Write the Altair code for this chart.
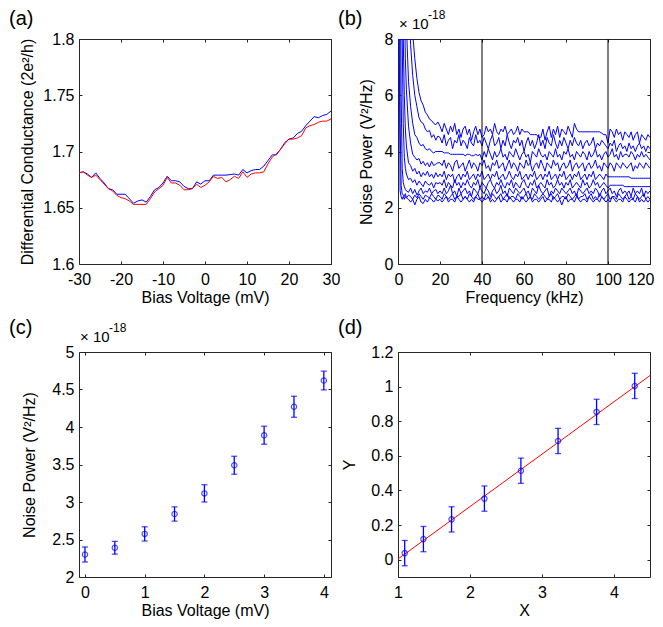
import altair as alt
import pandas as pd

# ---------------- data ----------------
panel_labels = ["(a)", "(b)", "(c)", "(d)"]
exp_text = ["× 10", "-18"]

# (a) differential conductance vs bias
bias_a = list(range(-30, 31))
cond_blue = [1.681, 1.682, 1.680, 1.677, 1.681, 1.676, 1.672, 1.667, 1.666, 1.662,
             1.662, 1.662, 1.658, 1.654, 1.656, 1.657, 1.655, 1.660, 1.666, 1.668,
             1.672, 1.678, 1.674, 1.674, 1.673, 1.669, 1.667, 1.667, 1.673, 1.671,
             1.674, 1.674, 1.679, 1.679, 1.679, 1.679, 1.6795, 1.680, 1.679, 1.684,
             1.681, 1.683, 1.684, 1.684, 1.687, 1.692, 1.697, 1.697, 1.702, 1.708,
             1.711, 1.712, 1.716, 1.718, 1.723, 1.727, 1.731, 1.730, 1.732, 1.733,
             1.736]
cond_red = [1.681, 1.682, 1.679, 1.677, 1.679, 1.675, 1.671, 1.667, 1.665, 1.661,
            1.659, 1.658, 1.656, 1.653, 1.653, 1.653, 1.653, 1.658, 1.664, 1.667,
            1.670, 1.677, 1.672, 1.672, 1.670, 1.666, 1.666, 1.667, 1.671, 1.668,
            1.670, 1.673, 1.678, 1.676, 1.677, 1.673, 1.675, 1.678, 1.676, 1.682,
            1.677, 1.680, 1.681, 1.681, 1.682, 1.689, 1.695, 1.698, 1.702, 1.707,
            1.711, 1.711, 1.712, 1.714, 1.721, 1.723, 1.724, 1.726, 1.727, 1.727,
            1.729]

# (b) noise spectra (units of 1e-18 V^2/Hz)
freq_early = [0.5, 1, 1.5, 2, 2.5, 3, 3.5, 4, 5, 6, 7, 8, 9, 10, 11, 12, 13, 14, 15, 16, 17, 18, 19]
freq_late = list(range(20, 121))
spec_early = [
    [9.5, 2.6, 2.4, 2.3, 2.4, 2.3, 2.4, 2.35, 2.3, 2.2, 2.3, 2.1, 2.3, 2.4, 2.2, 2.15, 2.3, 2.2, 2.35, 2.3, 2.2, 2.3, 2.25],
    [20, 5.0, 2.8, 2.5, 2.45, 2.4, 2.5, 2.35, 2.45, 2.4, 2.3, 2.45, 2.35, 2.5, 2.4, 2.3, 2.45, 2.4, 2.35, 2.5, 2.4, 2.3, 2.45],
    [40, 12, 6.0, 3.4, 2.9, 2.75, 2.65, 2.6, 2.55, 2.7, 2.5, 2.65, 2.45, 2.6, 2.7, 2.5, 2.6, 2.55, 2.7, 2.5, 2.6, 2.65, 2.5],
    [40, 22, 12, 8.0, 5.0, 3.8, 3.4, 3.2, 3.0, 3.05, 2.9, 3.0, 2.8, 2.95, 2.85, 2.75, 2.95, 2.85, 2.8, 2.9, 2.7, 2.9, 2.85],
    [60, 30, 16, 10, 8.0, 6.0, 4.8, 4.2, 3.6, 3.5, 3.3, 3.4, 3.2, 3.3, 3.1, 3.25, 3.15, 3.3, 3.1, 3.2, 3.05, 3.25, 3.1],
    [60, 40, 25, 16, 12, 9.5, 7.3, 6.2, 4.9, 4.3, 3.9, 3.8, 3.7, 3.75, 3.55, 3.65, 3.5, 3.6, 3.45, 3.65, 3.5, 3.55, 3.6],
    [80, 50, 30, 22, 16, 12, 10, 8.5, 6.5, 5.6, 5.0, 4.6, 4.5, 4.3, 4.2, 4.25, 4.1, 4.05, 4.1, 4.0, 3.95, 4.0, 4.0],
    [80, 60, 40, 30, 22, 17, 14, 12, 9.5, 7.8, 6.7, 6.0, 5.6, 5.2, 5.05, 5.0, 4.8, 4.7, 4.75, 4.5, 4.6, 4.4, 4.55],
    [100, 80, 60, 45, 35, 28, 22, 18, 13, 9.5, 8.2, 7.3, 6.6, 6.1, 5.8, 5.65, 5.4, 5.3, 5.15, 5.1, 5.0, 4.95, 5.05],
]
spec_late = [
    [2.3, 2.2, 2.3, 2.4, 2.2, 2.3, 2.3, 2.2, 2.4, 2.3,
     2.2, 2.3, 2.4, 2.3, 2.2, 2.3, 2.2, 2.4, 2.3, 2.3,
     2.2, 2.3, 2.3, 2.4, 2.2, 2.3, 2.2, 2.3, 2.4, 2.2,
     2.3, 2.3, 2.2, 2.4, 2.3, 2.2, 2.3, 2.3, 2.2, 2.4,
     2.3, 2.2, 2.3, 2.4, 2.2, 2.3, 2.3, 2.2, 2.3, 2.4,
     2.2, 2.3, 2.3, 2.2, 2.4, 2.3, 2.2, 2.3, 2.1, 2.3,
     2.4, 2.2, 2.3, 2.3, 2.2, 2.4, 2.3, 2.2, 2.3, 2.3,
     2.2, 2.4, 2.3, 2.2, 2.3, 2.3, 2.2, 2.4, 2.3, 2.2,
     2.3, 2.2, 2.4, 2.3, 2.2, 2.3, 2.3, 2.2, 2.4, 2.3,
     2.2, 2.3, 2.3, 2.2, 2.4, 2.2, 2.3, 2.2, 2.3, 2.2,
     2.3],
    [2.4, 2.3, 2.5, 2.4, 2.3, 2.4, 2.5, 2.3, 2.4, 2.4,
     2.5, 2.3, 2.4, 2.3, 2.5, 2.4, 2.3, 2.4, 2.5, 2.3,
     2.4, 2.3, 2.5, 2.4, 2.3, 2.5, 2.4, 2.3, 2.4, 2.5,
     2.3, 2.4, 2.5, 2.3, 2.4, 2.4, 2.3, 2.5, 2.4, 2.3,
     2.4, 2.5, 2.3, 2.4, 2.3, 2.5, 2.4, 2.3, 2.4, 2.5,
     2.4, 2.3, 2.4, 2.5, 2.3, 2.4, 2.5, 2.3, 2.4, 2.4,
     2.3, 2.5, 2.4, 2.3, 2.4, 2.5, 2.3, 2.4, 2.4, 2.5,
     2.3, 2.4, 2.5, 2.3, 2.4, 2.3, 2.5, 2.4, 2.3, 2.4,
     2.5, 2.3, 2.4, 2.4, 2.3, 2.5, 2.4, 2.3, 2.4, 2.5,
     2.3, 2.4, 2.3, 2.5, 2.4, 2.3, 2.4, 2.5, 2.3, 2.4,
     2.3],
    [2.6, 2.5, 2.7, 2.5, 2.6, 2.8, 2.5, 2.6, 2.4, 2.7,
     2.5, 2.6, 2.7, 2.5, 2.6, 2.4, 2.7, 2.6, 2.5, 2.7,
     2.6, 2.5, 2.7, 2.6, 2.4, 2.6, 2.7, 2.5, 2.6, 2.8,
     2.5, 2.6, 2.4, 2.7, 2.6, 2.5, 2.7, 2.6, 2.5, 2.6,
     2.7, 2.5, 2.6, 2.4, 2.7, 2.6, 2.5, 2.8, 2.6, 2.5,
     2.6, 2.7, 2.4, 2.6, 2.5, 2.7, 2.6, 2.5, 2.7, 2.6,
     2.5, 2.6, 2.7, 2.5, 2.6, 2.4, 2.7, 2.6, 2.5, 2.6,
     2.7, 2.5, 2.6, 2.5, 2.7, 2.6, 2.4, 2.6, 2.7, 2.5,
     2.6, 2.7, 2.5, 2.6, 2.4, 2.6, 2.7, 2.5, 2.6, 2.5,
     2.6, 2.4, 2.7, 2.5, 2.6, 2.5, 2.7, 2.4, 2.6, 2.5,
     2.6],
    [2.9, 2.8, 3.0, 2.7, 2.9, 2.8, 2.7, 3.0, 2.8, 2.9,
     2.7, 2.9, 2.8, 3.0, 2.8, 2.7, 2.9, 2.8, 3.0, 2.7,
     2.9, 2.8, 2.7, 2.9, 3.0, 2.8, 2.7, 2.9, 2.8, 3.0,
     2.8, 2.7, 2.9, 2.8, 3.0, 2.7, 2.9, 2.8, 2.7, 2.9,
     3.0, 2.8, 2.7, 2.9, 2.8, 3.0, 2.7, 2.8, 2.9, 2.8,
     2.7, 3.0, 2.8, 2.9, 2.7, 2.8, 3.0, 2.8, 2.9, 2.7,
     2.9, 2.8, 3.0, 2.7, 2.8, 2.9, 2.8, 2.7, 3.0, 2.8,
     2.9, 2.7, 2.8, 3.0, 2.8, 2.9, 2.7, 2.8, 2.9, 2.8,
     2.7, 2.8, 2.8, 2.8, 2.8, 2.8, 2.8, 2.8, 2.75, 2.75,
     2.75, 2.75, 2.75, 2.75, 2.75, 2.75, 2.75, 2.75, 2.75, 2.75,
     2.75],
    [3.2, 3.1, 3.3, 3.0, 3.2, 3.1, 3.2, 2.9, 3.1, 3.2,
     3.0, 3.2, 3.1, 3.3, 3.0, 3.1, 3.2, 3.0, 3.2, 3.1,
     3.3, 3.0, 3.1, 3.2, 3.0, 3.2, 3.1, 3.3, 3.0, 3.1,
     3.2, 3.0, 3.1, 3.3, 3.1, 3.0, 3.2, 3.1, 3.3, 3.0,
     3.1, 3.2, 3.0, 3.2, 3.1, 3.3, 3.0, 3.1, 3.2, 3.0,
     3.2, 3.1, 3.3, 3.0, 3.1, 3.2, 3.0, 3.2, 3.1, 3.3,
     3.0, 3.1, 3.2, 3.0, 3.2, 3.1, 3.3, 3.0, 3.1, 3.2,
     3.0, 3.2, 3.1, 3.3, 3.0, 3.1, 3.2, 3.1, 3.0, 3.2,
     3.1, 3.1, 3.1, 3.1, 3.1, 3.1, 3.1, 3.1, 3.1, 3.1,
     3.1, 3.05, 3.05, 3.05, 3.05, 3.05, 3.05, 3.05, 3.05, 3.05,
     3.05],
    [3.6, 3.5, 3.7, 3.4, 3.6, 3.5, 3.3, 3.6, 3.7, 3.4,
     3.5, 3.6, 3.3, 3.5, 3.7, 3.4, 3.6, 3.5, 3.3, 3.6,
     3.5, 3.7, 3.4, 3.5, 3.3, 3.6, 3.5, 3.7, 3.4, 3.5,
     3.6, 3.3, 3.5, 3.7, 3.4, 3.6, 3.5, 3.3, 3.6, 3.5,
     3.4, 3.7, 3.5, 3.6, 3.3, 3.5, 3.6, 3.4, 3.7, 3.5,
     3.3, 3.6, 3.5, 3.4, 3.7, 3.5, 3.6, 3.3, 3.5, 3.6,
     3.4, 3.5, 3.7, 3.3, 3.5, 3.6, 3.4, 3.5, 3.6, 3.3,
     3.5, 3.6, 3.4, 3.5, 3.7, 3.4, 3.5, 3.3, 3.6, 3.5,
     3.4, 3.6, 3.5, 3.3, 3.6, 3.5, 3.4, 3.6, 3.5, 3.4,
     3.5, 3.6, 3.3, 3.5, 3.4, 3.6, 3.5, 3.4, 3.6, 3.5,
     3.4],
    [4.0, 4.0, 3.95, 3.95, 3.95, 3.9, 3.9, 3.9, 3.9, 3.9,
     3.9, 3.9, 3.85, 3.9, 3.9, 3.85, 3.85, 3.9, 3.85, 3.9,
     3.7, 4.0, 3.8, 4.1, 3.9, 3.7, 4.0, 3.8, 3.9, 4.1,
     3.8, 3.9, 3.7, 4.0, 3.9, 3.8, 4.1, 3.9, 3.7, 3.9,
     4.0, 3.8, 3.9, 3.6, 4.0, 3.9, 3.8, 4.1, 3.9, 3.8,
     3.9, 3.7, 4.0, 3.9, 3.8, 4.1, 3.8, 3.9, 3.7, 4.0,
     3.9, 4.1, 3.8, 3.9, 3.7, 4.0, 3.9, 3.8, 4.0, 3.9,
     3.7, 4.0, 3.8, 3.9, 4.1, 3.8, 3.9, 3.7, 3.9, 4.0,
     3.8, 3.9, 4.1, 3.8, 3.9, 3.7, 4.0, 3.8, 3.9, 3.9,
     3.8, 4.0, 3.9, 3.7, 3.9, 3.8, 4.0, 3.8, 3.9, 3.8,
     3.7],
    [4.5, 4.3, 4.6, 4.2, 4.4, 4.5, 4.1, 4.4, 4.3, 4.6,
     4.2, 4.4, 4.3, 4.1, 4.5, 4.3, 4.2, 4.6, 4.3, 4.4,
     4.2, 4.5, 4.3, 4.1, 4.4, 4.6, 4.2, 4.3, 4.5, 4.1,
     4.4, 4.2, 4.6, 4.3, 4.1, 4.4, 4.3, 4.5, 4.2, 4.4,
     4.0, 4.3, 4.5, 4.2, 4.4, 4.1, 4.3, 4.6, 4.2, 4.4,
     4.1, 4.5, 4.3, 4.2, 4.6, 4.3, 4.1, 4.4, 4.2, 4.5,
     4.3, 4.1, 4.4, 4.2, 4.5, 4.3, 4.2, 4.4, 4.1, 4.3,
     4.4, 4.2, 4.3, 4.5, 4.1, 4.3, 4.2, 4.4, 4.3, 4.2,
     4.1, 4.3, 4.2, 4.4, 4.0, 4.2, 4.3, 4.1, 4.2, 4.0,
     4.3, 4.1, 4.2, 4.0, 4.2, 4.3, 4.1, 4.2, 4.0, 4.2,
     4.1],
    [4.9, 4.7, 5.0, 4.8, 4.6, 4.9, 4.7, 5.0, 4.6, 4.8,
     4.5, 4.8, 4.9, 4.6, 4.8, 4.4, 4.7, 4.9, 4.6, 4.8,
     4.5, 4.6, 4.9, 4.7, 4.8, 4.6, 5.0, 4.7, 4.6, 4.8,
     4.7, 4.9, 4.6, 4.7, 4.8, 4.6, 4.7, 4.9, 4.6, 4.8,
     4.7, 4.7, 4.7, 4.6, 4.6, 4.6, 4.6, 4.5, 4.5, 4.8,
     4.4, 4.7, 4.9, 4.5, 4.8, 4.6, 4.9, 4.5, 4.8, 4.7,
     4.6, 4.9, 4.7, 4.5, 5.0, 4.8, 4.7, 4.7, 4.7, 4.7,
     4.7, 4.7, 4.7, 4.7, 4.7, 4.7, 4.7, 4.65, 4.6, 4.6,
     4.3, 4.8, 4.7, 4.5, 4.8, 4.6, 4.7, 4.4, 4.7, 4.6,
     4.5, 4.7, 4.4, 4.6, 4.7, 4.3, 4.6, 4.5, 4.4, 4.6,
     4.5],
]
vline_freq = [40, 100]

# (c) noise power vs bias
bias_c = [0, 0.5, 1, 1.5, 2, 2.5, 3, 3.5, 4]
noise_c = [2.30, 2.39, 2.575, 2.84, 3.115, 3.49, 3.89, 4.27, 4.62]
err_c = [0.10, 0.085, 0.095, 0.095, 0.115, 0.12, 0.12, 0.14, 0.125]

# (d) Y vs X with linear fit
x_d = [1.093, 1.353, 1.744, 2.2, 2.707, 3.223, 3.758, 4.288]
y_d = [0.038, 0.119, 0.233, 0.353, 0.514, 0.686, 0.854, 1.004]
err_d = [0.073, 0.073, 0.073, 0.073, 0.073, 0.073, 0.073, 0.073]
fit_x = [1.0, 4.5]
fit_y = [0.004, 1.064]

# ---------------- style ----------------
FONT = "Liberation Sans"
W, H = 252, 225
FRAME = "#262626"
BLUE = "#0000ff"
RED = "#ff0000"
LBL = "'' + datum.value"


def scale(dom):
    return alt.Scale(domain=dom, nice=False, zero=False)


def axis_layers(df, xf, yf, xs, ys, xvals, yvals, xtitle, ytitle, ytp, flush=False):
    xkw = dict(labelFlush=False)
    if flush:
        xkw = dict(labelFlush=True, labelFlushOffset=4)
    main = alt.Chart(df).mark_point(opacity=0, clip=True).encode(
        x=alt.X(xf, type="quantitative", scale=xs,
                axis=alt.Axis(orient="bottom", values=xvals, title=xtitle, ticks=False,
                              tickSize=0, domain=False, grid=False, labelPadding=7,
                              titlePadding=2, labelExpr=LBL, **xkw)),
        y=alt.Y(yf, type="quantitative", scale=ys,
                axis=alt.Axis(orient="left", values=yvals, title=ytitle, ticks=False,
                              tickSize=0, domain=False, grid=False, labelPadding=5,
                              titlePadding=ytp, labelExpr=LBL)),
    )
    t1 = alt.Chart(df).mark_point(opacity=0, clip=True).encode(
        x=alt.X(xf, type="quantitative", scale=xs,
                axis=alt.Axis(orient="top", offset=-H, values=xvals, labels=False,
                              domain=False, grid=False, tickSize=3, tickColor=FRAME,
                              title=None)),
        y=alt.Y(yf, type="quantitative", scale=ys,
                axis=alt.Axis(orient="right", offset=-W, values=yvals, labels=False,
                              domain=False, grid=False, tickSize=3, tickColor=FRAME,
                              title=None)),
    )
    t2 = alt.Chart(df).mark_point(opacity=0, clip=True).encode(
        x=alt.X(xf, type="quantitative", scale=xs,
                axis=alt.Axis(orient="bottom", offset=-H, values=xvals, labels=False,
                              domain=False, grid=False, tickSize=3, tickColor=FRAME,
                              title=None)),
        y=alt.Y(yf, type="quantitative", scale=ys,
                axis=alt.Axis(orient="left", offset=-W, values=yvals, labels=False,
                              domain=False, grid=False, tickSize=3, tickColor=FRAME,
                              title=None)),
    )
    return [main, t1, t2]


def text_layer(txt, x, y, size):
    return alt.Chart(pd.DataFrame({"t": [txt]})).mark_text(
        align="left", baseline="alphabetic", fontSize=size, font=FONT, color="black"
    ).encode(text="t:N", x=alt.value(x), y=alt.value(y))


def finish(layers):
    return alt.layer(*layers).resolve_axis(x="independent", y="independent").properties(
        width=W, height=H)


# ---------------- panel (a) ----------------
df_a = pd.DataFrame({"v": bias_a, "blue": cond_blue, "red": cond_red})
xs_a = scale([-30, 30])
ys_a = scale([1.6, 1.8])
blue_a = alt.Chart(df_a).mark_line(color=BLUE, strokeWidth=1, clip=True).encode(
    x=alt.X("v:Q", scale=xs_a, axis=None), y=alt.Y("blue:Q", scale=ys_a, axis=None))
red_a = alt.Chart(df_a).mark_line(color=RED, strokeWidth=1, clip=True).encode(
    x=alt.X("v:Q", scale=xs_a, axis=None), y=alt.Y("red:Q", scale=ys_a, axis=None))
panel_a = finish([blue_a, red_a]
                 + axis_layers(df_a, "v", "blue", xs_a, ys_a, [-30, -20, -10, 0, 10, 20, 30],
                               [1.6, 1.65, 1.7, 1.75, 1.8], "Bias Voltage (mV)",
                               "Differential Conductance (2e²/h)", 7)
                 + [text_layer(panel_labels[0], -70, -14, 20)])

# ---------------- panel (b) ----------------
rows = []
for k in range(len(spec_early)):
    for f, p in zip(freq_early + freq_late, spec_early[k] + spec_late[k]):
        rows.append({"f": f, "p": p, "curve": k})
df_b = pd.DataFrame(rows)
xs_b = scale([0, 120])
ys_b = scale([0, 8])
lines_b = alt.Chart(df_b).mark_line(color=BLUE, strokeWidth=1, clip=True).encode(
    x=alt.X("f:Q", scale=xs_b, axis=None), y=alt.Y("p:Q", scale=ys_b, axis=None),
    detail="curve:N")
vl_b = alt.Chart(pd.DataFrame({"f": vline_freq})).mark_rule(color="black", strokeWidth=1).encode(
    x=alt.X("f:Q", scale=xs_b, axis=None))
panel_b = finish([lines_b, vl_b]
                 + axis_layers(df_b, "f", "p", xs_b, ys_b, [0, 20, 40, 60, 80, 100, 120],
                               [0, 2, 4, 6, 8], "Frequency (kHz)", "Noise Power (V²/Hz)", 10,
                               flush=True)
                 + [text_layer(panel_labels[1], -60, -14, 20),
                    text_layer(exp_text[0], 1, -10, 15),
                    text_layer(exp_text[1], 30, -20, 12)])

# ---------------- panel (c) ----------------
df_c = pd.DataFrame({"v": bias_c, "n": noise_c, "e": err_c})
df_c["lo"] = df_c["n"] - df_c["e"]
df_c["hi"] = df_c["n"] + df_c["e"]
xs_c = scale([-0.1, 4.12])
ys_c = scale([2, 5])
bars_c = alt.Chart(df_c).mark_rule(color=BLUE, strokeWidth=1.3).encode(
    x=alt.X("v:Q", scale=xs_c, axis=None), y=alt.Y("lo:Q", scale=ys_c, axis=None), y2="hi:Q")
caplo_c = alt.Chart(df_c).mark_tick(color=BLUE, orient="horizontal", size=6, thickness=1.3).encode(
    x=alt.X("v:Q", scale=xs_c, axis=None), y=alt.Y("lo:Q", scale=ys_c, axis=None))
caphi_c = alt.Chart(df_c).mark_tick(color=BLUE, orient="horizontal", size=6, thickness=1.3).encode(
    x=alt.X("v:Q", scale=xs_c, axis=None), y=alt.Y("hi:Q", scale=ys_c, axis=None))
pts_c = alt.Chart(df_c).mark_point(shape="circle", filled=False, size=28, strokeWidth=1.2,
                                   color=BLUE).encode(
    x=alt.X("v:Q", scale=xs_c, axis=None), y=alt.Y("n:Q", scale=ys_c, axis=None))
panel_c = finish([bars_c, caplo_c, caphi_c, pts_c]
                 + axis_layers(df_c, "v", "n", xs_c, ys_c, [0, 1, 2, 3, 4],
                               [2, 2.5, 3, 3.5, 4, 4.5, 5], "Bias Voltage (mV)",
                               "Noise Power (V²/Hz)", 14)
                 + [text_layer(panel_labels[2], -70, -18, 20),
                    text_layer(exp_text[0], 1, -10, 15),
                    text_layer(exp_text[1], 30, -20, 12)])

# ---------------- panel (d) ----------------
df_d = pd.DataFrame({"x": x_d, "y": y_d, "e": err_d})
df_d["lo"] = df_d["y"] - df_d["e"]
df_d["hi"] = df_d["y"] + df_d["e"]
df_fit = pd.DataFrame({"x": fit_x, "y": fit_y})
xs_d = scale([1, 4.5])
ys_d = scale([-0.1, 1.2])
fit_d = alt.Chart(df_fit).mark_line(color=RED, strokeWidth=1, clip=True).encode(
    x=alt.X("x:Q", scale=xs_d, axis=None), y=alt.Y("y:Q", scale=ys_d, axis=None))
bars_d = alt.Chart(df_d).mark_rule(color=BLUE, strokeWidth=1.3).encode(
    x=alt.X("x:Q", scale=xs_d, axis=None), y=alt.Y("lo:Q", scale=ys_d, axis=None), y2="hi:Q")
caplo_d = alt.Chart(df_d).mark_tick(color=BLUE, orient="horizontal", size=6, thickness=1.3).encode(
    x=alt.X("x:Q", scale=xs_d, axis=None), y=alt.Y("lo:Q", scale=ys_d, axis=None))
caphi_d = alt.Chart(df_d).mark_tick(color=BLUE, orient="horizontal", size=6, thickness=1.3).encode(
    x=alt.X("x:Q", scale=xs_d, axis=None), y=alt.Y("hi:Q", scale=ys_d, axis=None))
pts_d = alt.Chart(df_d).mark_point(shape="circle", filled=False, size=28, strokeWidth=1.2,
                                   color=BLUE).encode(
    x=alt.X("x:Q", scale=xs_d, axis=None), y=alt.Y("y:Q", scale=ys_d, axis=None))
panel_d = finish([fit_d, bars_d, caplo_d, caphi_d, pts_d]
                 + axis_layers(df_d, "x", "y", xs_d, ys_d, [1, 2, 3, 4],
                               [0, 0.2, 0.4, 0.6, 0.8, 1, 1.2], "X", "Y", 13)
                 + [text_layer(panel_labels[3], -60, -18, 20)])

chart = alt.concat(panel_a, panel_b, panel_c, panel_d, columns=2,
                   spacing={"row": 88, "column": 67}, bounds="flush").properties(
    padding={"left": 0, "top": 0, "right": 0, "bottom": 0}
).configure_view(stroke=FRAME, strokeWidth=1).configure_axis(
    labelFont=FONT, titleFont=FONT, labelFontSize=16, titleFontSize=16,
    titleFontWeight="normal", labelColor="black", titleColor="black")

chart.save("out.html", embed_options={"renderer": "svg", "actions": False})
